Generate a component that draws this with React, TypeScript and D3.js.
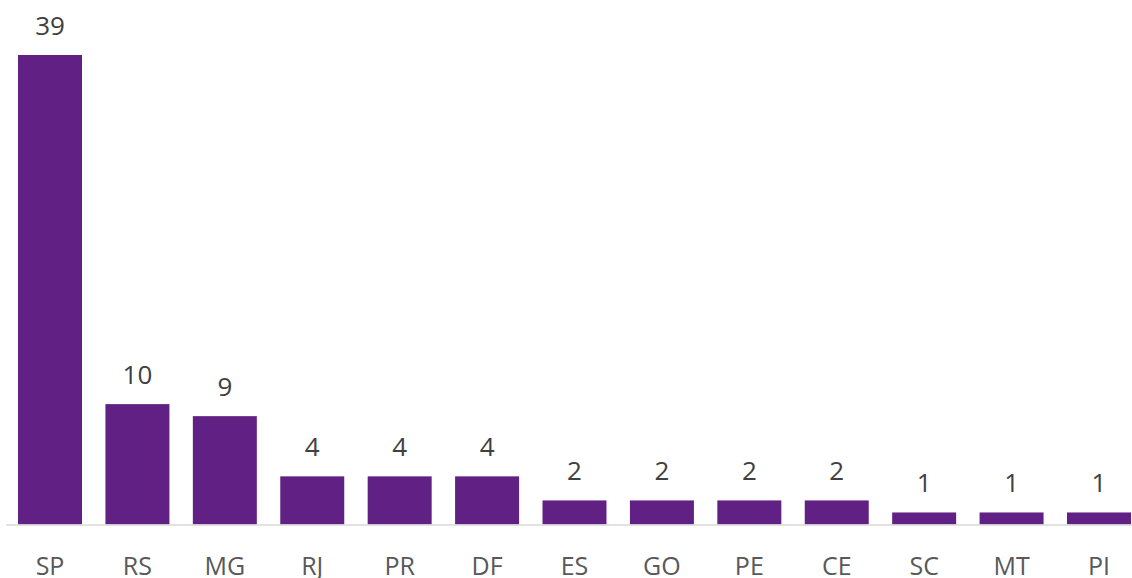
import React from "react";
import * as d3 from "d3";

const categories = ["SP", "RS", "MG", "RJ", "PR", "DF", "ES", "GO", "PE", "CE", "SC", "MT", "PI"];
const values = [39, 10, 9, 4, 4, 4, 2, 2, 2, 2, 1, 1, 1];

const W = 1132;
const H = 578;

export default function App() {
  const x = d3.scaleBand<string>().domain(categories).range([6.3, 1142.7]).paddingInner(0.268).paddingOuter(0.134);
  const y = d3.scaleLinear().domain([0, 39]).range([524.5, 55]);
  const font = "'Open Sans', 'Liberation Sans', sans-serif";
  return (
    <svg width={W} height={H} style={{ position: "absolute", left: 0, top: 0 }}>
      <rect x={0} y={0} width={W} height={H} fill="#ffffff" />
      {categories.map((c, i) => (
        <g key={c}>
          <rect x={x(c)} y={y(values[i])} width={x.bandwidth()} height={y(0) - y(values[i])} fill="#612084" />
          <text x={(x(c) as number) + x.bandwidth() / 2} y={y(values[i]) - 20} textAnchor="middle" fontFamily={font} fontSize={26} fill="#404040">
            {values[i]}
          </text>
          <text x={(x(c) as number) + x.bandwidth() / 2} y={575} textAnchor="middle" fontFamily={font} fontSize={25} fill="#595959">
            {c}
          </text>
        </g>
      ))}
      <line x1={6} x2={W} y1={525} y2={525} stroke="#d9d9d9" strokeWidth={1.5} />
    </svg>
  );
}
